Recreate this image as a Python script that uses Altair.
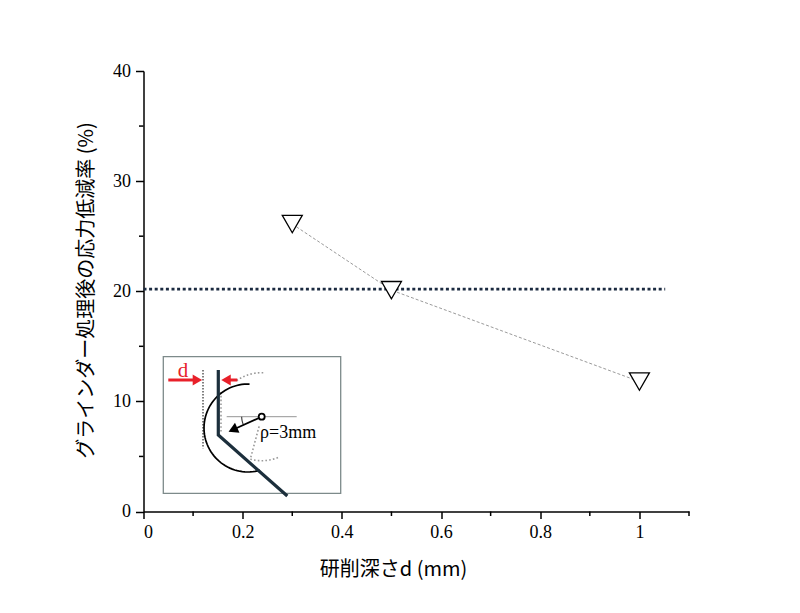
import numpy as np
import pandas as pd
import altair as alt

# ---------------- main data ----------------
depth = [0.3, 0.5, 1.0]                 # 研削深さ d (mm)
reduction = [26.1, 20.1, 11.8]          # 応力低減率 (%)
ref_level = [20.2]                      # horizontal dotted reference
ref_x0 = [0.0]
ref_x1 = [1.052]
x_major = [0, 0.2, 0.4, 0.6, 0.8, 1.0]
x_minor = [0.1, 0.3, 0.5, 0.7, 0.9, 1.1]
y_major = [0, 10, 20, 30, 40]
y_minor = [5, 15, 25, 35]

x_title = "研削深さd (mm)"
y_title = "グラインダー処理後の応力低減率 (%)"

# ---------------- inset diagram (local units, y downward) ----------------
box_x = [0.0, 177.4]
box_y = [0.0, 136.6]
profile_x = [55.0, 55.0, 124.0]
profile_y = [13.3, 78.3, 139.3]
guide_x = [39.7, 39.7]
guide_y = [13.3, 91.6]
old_x = [57.7, 57.7]
old_y = [35.3, 76.3]
horiz_x = [63.4, 133.4]
horiz_y = [60.0, 60.0]
radial_x = [95.8, 87.0]
radial_y = [69.7, 102.5]
redL_x = [5.0, 34.1]
redL_y = [23.3, 23.3]
redR_x = [62.7, 74.0]
redR_y = [23.3, 23.3]
ring_xy = [98.4, 60.0]
arrow_x = [98.4, 69.6]
arrow_y = [60.0, 73.0]
arrow_angle = [245.8]
# arcs: (cx, cy, r, start deg, end deg)
arc_solid = (84.7, 71.3, 44.0, 88.0, 286.0)
arc_top = (98.4, 60.0, 44.0, 88.0, 126.0)
arc_bot = (98.4, 60.0, 44.0, -105.0, -67.0)
arc_ang = (98.4, 60.0, 20.0, 180.0, 204.0)
d_label = ("d", 19.7, 20.5)
rho_label = ("ρ=3mm", 96.7, 81.3)

# ---------------- styling helpers ----------------
SERIF = "Liberation Serif"
JP = "Noto Sans CJK JP"
W, H = 545.5, 440.5

AX = alt.Axis(values=x_major, format="~g", grid=False, domainColor="black",
              domainWidth=1.5, tickColor="black", tickWidth=1.5, tickSize=7,
              labelFont=SERIF, labelFontSize=18, labelColor="black",
              labelPadding=5, title=x_title, titleFont=JP, titleFontSize=20,
              titleFontWeight="normal", titleColor="black",
              titleX=249.5, titleY=58, titleBaseline="middle")
AY = alt.Axis(values=y_major, grid=False, domainColor="black",
              domainWidth=1.5, tickColor="black", tickWidth=1.5, tickSize=8,
              labelFont=SERIF, labelFontSize=18, labelColor="black",
              labelPadding=5, title=y_title, titleFont=JP, titleFontSize=20,
              titleFontWeight="normal", titleColor="black",
              titleX=-57, titleY=219, titleAngle=-90, titleBaseline="middle")
XS = alt.Scale(domain=[0, 1.1], nice=False, zero=False)
YS = alt.Scale(domain=[0, 40], nice=False, zero=False)

pts = pd.DataFrame({"x": depth, "y": reduction})
ref = pd.DataFrame({"x0": ref_x0, "x1": ref_x1, "y": ref_level})

hline = alt.Chart(ref).mark_rule(color="#1b2a40", strokeWidth=2.8,
                                 strokeDash=[3, 2.6]).encode(
    x=alt.X("x0:Q", scale=XS, axis=AX), x2="x1:Q",
    y=alt.Y("y:Q", scale=YS, axis=AY))

line = alt.Chart(pts).mark_line(color="#808080", strokeWidth=0.8,
                                strokeDash=[3, 2]).encode(
    x=alt.X("x:Q", scale=XS, axis=AX), y=alt.Y("y:Q", scale=YS, axis=AY))

points = alt.Chart(pts).mark_point(shape="triangle-down", size=400,
                                   filled=True, fill="white", fillOpacity=1,
                                   stroke="black", strokeWidth=1.3,
                                   opacity=1).encode(
    x=alt.X("x:Q", scale=XS, axis=AX), y=alt.Y("y:Q", scale=YS, axis=AY))

yminor = alt.Chart(pd.DataFrame({"v": y_minor})).mark_rule(
    color="black", strokeWidth=1.5).encode(
    y=alt.Y("v:Q", scale=YS, axis=AY), x=alt.value(0), x2=alt.value(-4.5))
xminor = alt.Chart(pd.DataFrame({"v": x_minor})).mark_rule(
    color="black", strokeWidth=1.5).encode(
    x=alt.X("v:Q", scale=XS, axis=AX), y=alt.value(H), y2=alt.value(H + 4.5))

main = alt.layer(hline, line, points, yminor, xminor)

# ---------------- inset layers ----------------
SX = alt.Scale(domain=[0, 177.4], range=[19.8, 197.2], nice=False, zero=False)
SY = alt.Scale(domain=[0, 136.6], range=[285.7, 422.3], nice=False, zero=False)


def enc_xy(ch):
    return ch.encode(x=alt.X("x:Q", scale=SX, axis=None),
                     y=alt.Y("y:Q", scale=SY, axis=None))


def poly(xs, ys, **kw):
    df = pd.DataFrame({"x": xs, "y": ys, "i": list(range(len(xs)))})
    return alt.Chart(df).mark_line(**kw).encode(
        x=alt.X("x:Q", scale=SX, axis=None),
        y=alt.Y("y:Q", scale=SY, axis=None), order="i:Q")


def arc(spec, **kw):
    cx, cy, r, a0, a1 = spec
    th = np.radians(np.linspace(a0, a1, 60))
    return poly(list(cx + r * np.cos(th)), list(cy - r * np.sin(th)), **kw)


box = alt.Chart(pd.DataFrame({"x": [box_x[0]], "x2": [box_x[1]],
                              "y": [box_y[0]], "y2": [box_y[1]]})).mark_rect(
    fill="white", stroke="#7d8a8a", strokeWidth=1.3).encode(
    x=alt.X("x:Q", scale=SX, axis=None), x2="x2:Q",
    y=alt.Y("y:Q", scale=SY, axis=None), y2="y2:Q")

GRAY = "#9a9a9a"
layers = [
    box,
    poly(horiz_x, horiz_y, color="#8a8a8a", strokeWidth=0.9),
    arc(arc_top, color=GRAY, strokeWidth=1.6, strokeDash=[1.6, 2.2]),
    arc(arc_bot, color=GRAY, strokeWidth=1.6, strokeDash=[1.6, 2.2]),
    poly(radial_x, radial_y, color=GRAY, strokeWidth=1.6, strokeDash=[1.6, 2.2]),
    poly(old_x, old_y, color=GRAY, strokeWidth=1.6, strokeDash=[1.6, 2.2]),
    poly(guide_x, guide_y, color="black", strokeWidth=1.0, strokeDash=[1.5, 1.5]),
    arc(arc_solid, color="black", strokeWidth=1.7),
    poly(profile_x, profile_y, color="#1c2f3c", strokeWidth=3.2),
    arc(arc_ang, color="#333333", strokeWidth=1.1),
    poly(arrow_x, arrow_y, color="black", strokeWidth=1.8),
    enc_xy(alt.Chart(pd.DataFrame({"x": [arrow_x[1]], "y": [arrow_y[1]],
                                   "a": arrow_angle})).mark_point(
        shape="triangle-up", size=120, filled=True, color="black",
        opacity=1)).encode(angle=alt.Angle("a:Q", scale=None)),
    enc_xy(alt.Chart(pd.DataFrame({"x": [ring_xy[0]], "y": [ring_xy[1]]})).mark_point(
        shape="circle", size=36, filled=True, fill="white", stroke="black",
        strokeWidth=1.8, opacity=1)),
    poly(redL_x, redL_y, color="#e8202a", strokeWidth=3),
    poly(redR_x, redR_y, color="#e8202a", strokeWidth=3),
    enc_xy(alt.Chart(pd.DataFrame({"x": [redL_x[1]], "y": [redL_y[1]]})).mark_point(
        shape="triangle-right", size=120, filled=True, color="#e8202a", opacity=1)),
    enc_xy(alt.Chart(pd.DataFrame({"x": [redR_x[0]], "y": [redR_y[0]]})).mark_point(
        shape="triangle-left", size=120, filled=True, color="#e8202a", opacity=1)),
    enc_xy(alt.Chart(pd.DataFrame({"x": [d_label[1]], "y": [d_label[2]],
                                   "t": [d_label[0]]})).mark_text(
        font=SERIF, fontSize=21, color="#e8202a", align="center",
        baseline="alphabetic")).encode(text="t:N"),
    enc_xy(alt.Chart(pd.DataFrame({"x": [rho_label[1]], "y": [rho_label[2]],
                                   "t": [rho_label[0]]})).mark_text(
        font=SERIF, fontSize=18, color="black", align="left",
        baseline="alphabetic")).encode(text="t:N"),
]
inset = alt.layer(*layers)

chart = alt.layer(main, inset).resolve_scale(
    x="independent", y="independent").properties(
    width=W, height=H,
    autosize=alt.AutoSizeParams(type="none"),
    padding={"left": 135.5, "top": 63, "right": 100, "bottom": 85},
    background="white",
).configure_view(stroke=None)

chart.save("out.html", embed_options={"renderer": "svg", "actions": False})
